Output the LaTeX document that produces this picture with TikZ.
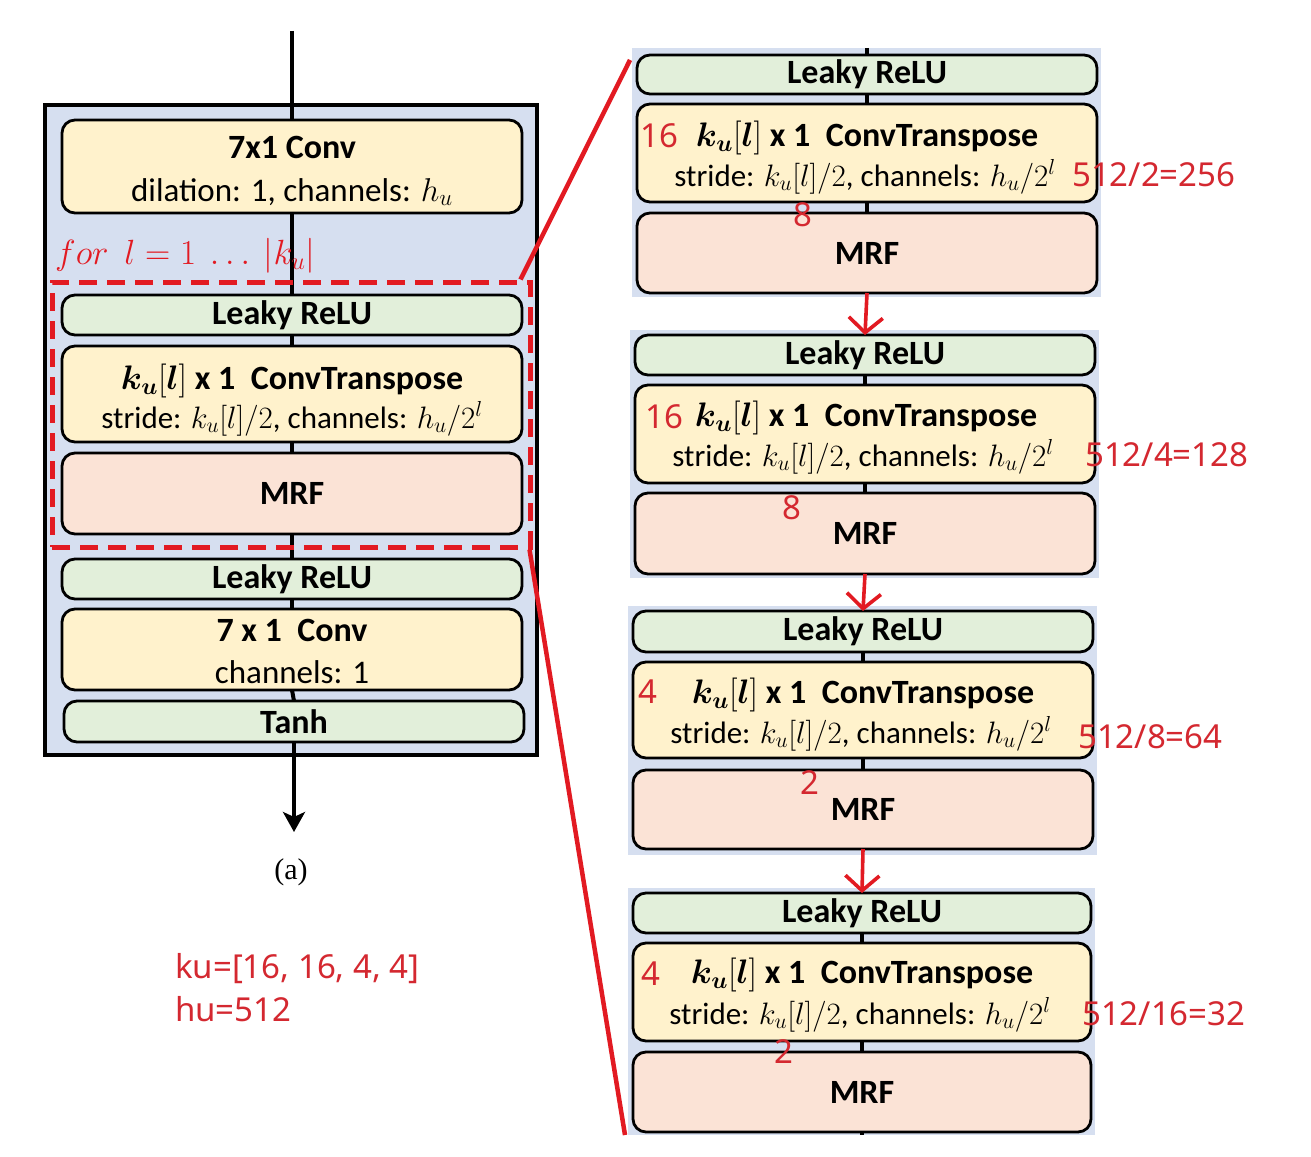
\RequirePackage{fix-cm}
\documentclass[tikz,border=0pt]{standalone}
\usepackage{fontspec}
\setmainfont{Carlito}
\newfontfamily\annfont{Noto Sans}
\newfontfamily\serfont{Liberation Serif}
\usepackage{amsmath,bm}
\usetikzlibrary{arrows.meta}
\definecolor{bluebg}{RGB}{214,223,240}
\definecolor{yelc}{RGB}{255,242,204}
\definecolor{grnc}{RGB}{226,239,218}
\definecolor{pchc}{RGB}{251,227,214}
\definecolor{redl}{RGB}{226,26,34}
\definecolor{redt}{RGB}{212,40,48}
% box from corners: style, name, x1, y1, x2, y2, then {text};
\newcommand\mkbox[6]{%
  \pgfmathsetmacro\mbW{#5-#3}\pgfmathsetmacro\mbH{#6-#4}%
  \pgfmathsetmacro\mbX{(#3+#5)/2}\pgfmathsetmacro\mbY{(#4+#6)/2}%
  \node[#1, minimum width=\mbW pt, minimum height=\mbH pt] (#2) at (\mbX,\mbY)}
\begin{document}
\begin{tikzpicture}[x=1pt,y=-1pt,
  blk/.style={draw=black, line width=2.8pt, rounded corners=13pt, inner sep=0pt, outer sep=0pt},
  ybox/.style={blk, fill=yelc},
  gbox/.style={blk, fill=grnc, font=\fontsize{34}{40}\selectfont\bfseries},
  pbox/.style={blk, fill=pchc, font=\fontsize{34}{40}\selectfont\bfseries},
  ttl/.style={font=\fontsize{34}{40}\selectfont\bfseries, anchor=base, inner sep=0pt},
  subl/.style={font=\fontsize{33}{40}\selectfont, anchor=base, inner sep=0pt},
  subs/.style={font=\fontsize{31}{36}\selectfont, anchor=base, inner sep=0pt},
  ann/.style={text=redt, font=\annfont\fontsize{33}{40}\selectfont, anchor=base, inner sep=0pt},
  annw/.style={ann, anchor=base west},
  panel/.style={fill=bluebg, inner sep=0pt, outer sep=0pt},
  flow/.style={draw=black, line width=4pt},
  rflow/.style={draw=black, line width=3.2pt},
  redarr/.style={draw=redl, line width=3.6pt, -{Straight Barb[length=15pt,width=34pt]}},
  redline/.style={draw=redl, line width=4.5pt},
]
\useasboundingbox (0,0) rectangle (1311,1156);
\fill[white] (0,0) rectangle (1311,1156);

% ---------------- left panel ----------------
\mkbox{panel, draw=black, line width=3.4pt}{outer}{45}{105}{537}{755} {};
\coordinate (inL) at (292,31);

\mkbox{ybox}{c1}{62}{120}{522}{213} {};
\mkbox{gbox}{L1}{62}{295}{522}{335} {Leaky ReLU};
\mkbox{ybox}{T1}{62}{346}{522}{442} {};
\mkbox{pbox}{M1}{62}{453}{522}{534} {MRF};
\mkbox{gbox}{L2}{62}{559}{522}{599} {Leaky ReLU};
\mkbox{ybox}{c2}{62}{609}{522}{690} {};
\mkbox{gbox}{th}{64}{701}{524}{742} {Tanh};
\coordinate (outL) at (294,832);

\draw[flow] (inL) -- (c1.north);
\draw[flow] (c1.south) -- (L1.north);
\draw[flow] (L1.south) -- (T1.north);
\draw[flow] (T1.south) -- (M1.north);
\draw[flow] (M1.south) -- (L2.north);
\draw[flow] (L2.south) -- (c2.north);
\draw[flow] (c2.south) -- (th.north);
\draw[flow, -{Stealth[length=20pt,width=22pt,inset=5pt]}] (th.south) -- (outL);

\node[ttl] (c1a) at (292,158) {7x1 Conv};
\node[subl] (c1b) at (292,201) {dilation: 1, channels: $h_u$};
\node[ttl] (T1a) at (292,389) {$\bm{k_u}[\bm{l}]$ x 1\ \ ConvTranspose};
\node[subs] (T1b) at (292,428) {stride: $k_u[l]/2$, channels: $h_u/2^l$};
\node[ttl] (c2a) at (292,641) {7 x 1\ \ Conv};
\node[subl] (c2b) at (292,683) {channels: 1};

\node[text=redl, font=\fontsize{35}{40}\selectfont, anchor=base west, inner sep=0pt] (forl) at (55,264) {$for\ \ l=1\ \dots\ |k_u|$};
\mkbox{draw=redl, line width=5pt, dash pattern=on 18pt off 10pt, inner sep=0pt}{loop}{52}{282}{530}{547} {};

\node[font=\serfont\fontsize{30}{36}\selectfont, inner sep=0pt] (cap) at (291,872) {(a)};
\node[annw] (ku) at (175,978) {ku=[16, 16, 4, 4]};
\node[annw] (hu) at (175,1021) {hu=512};

% ---------------- right panels ----------------
\mkbox{panel}{P1}{632}{48}{1101}{297} {};
\mkbox{panel}{P2}{630}{330}{1099}{578} {};
\mkbox{panel}{P3}{628}{606}{1097}{855} {};
\mkbox{panel}{P4}{628}{888}{1095}{1135} {};

% panel 1
\mkbox{gbox}{RL1}{637}{55}{1097}{94} {Leaky ReLU};
\mkbox{ybox}{RT1}{637}{104}{1097}{202} {};
\mkbox{pbox}{RM1}{637}{213}{1097}{293} {MRF};
% panel 2
\mkbox{gbox}{RL2}{635}{335}{1095}{375} {Leaky ReLU};
\mkbox{ybox}{RT2}{635}{385}{1095}{483} {};
\mkbox{pbox}{RM2}{635}{493}{1095}{574} {MRF};
% panel 3
\mkbox{gbox}{RL3}{633}{611}{1093}{652} {Leaky ReLU};
\mkbox{ybox}{RT3}{633}{662}{1093}{758} {};
\mkbox{pbox}{RM3}{633}{770}{1093}{849} {MRF};
% panel 4
\mkbox{gbox}{RL4}{633}{893}{1091}{933} {Leaky ReLU};
\mkbox{ybox}{RT4}{633}{943}{1091}{1041} {};
\mkbox{pbox}{RM4}{633}{1052}{1091}{1132} {MRF};

\coordinate (top1) at (867,48);
\coordinate (bot4) at (862,1135);
\draw[rflow] (top1) -- (RL1.north);
\draw[rflow] (RL1.south) -- (RT1.north);
\draw[rflow] (RT1.south) -- (RM1.north);
\draw[rflow] (RL2.south) -- (RT2.north);
\draw[rflow] (RT2.south) -- (RM2.north);
\draw[rflow] (RL3.south) -- (RT3.north);
\draw[rflow] (RT3.south) -- (RM3.north);
\draw[rflow] (RL4.south) -- (RT4.north);
\draw[rflow] (RT4.south) -- (RM4.north);
\draw[rflow] (RM4.south) -- (bot4);

\draw[redarr] (RM1.south) -- (RL2.north);
\draw[redarr] (RM2.south) -- (RL3.north);
\draw[redarr] (RM3.south) -- (RL4.north);

% texts in ConvTranspose boxes
\node[ttl] (RT1a) at (867,146) {$\bm{k_u}[\bm{l}]$ x 1\ \ ConvTranspose};
\node[subs] (RT1b) at (865,186) {stride: $k_u[l]/2$, channels: $h_u/2^l$};
\node[ttl] (RT2a) at (866,426) {$\bm{k_u}[\bm{l}]$ x 1\ \ ConvTranspose};
\node[subs] (RT2b) at (863,466) {stride: $k_u[l]/2$, channels: $h_u/2^l$};
\node[ttl] (RT3a) at (863,703) {$\bm{k_u}[\bm{l}]$ x 1\ \ ConvTranspose};
\node[subs] (RT3b) at (861,743) {stride: $k_u[l]/2$, channels: $h_u/2^l$};
\node[ttl] (RT4a) at (862,983) {$\bm{k_u}[\bm{l}]$ x 1\ \ ConvTranspose};
\node[subs] (RT4b) at (860,1024) {stride: $k_u[l]/2$, channels: $h_u/2^l$};

% red annotations
\node[ann] (n1a) at (659,147) {16};
\node[annw] (n1b) at (1072,186) {512/2=256};
\node[ann] (n1c) at (803,226) {8};
\node[ann] (n2a) at (664,428) {16};
\node[annw] (n2b) at (1085,466) {512/4=128};
\node[ann] (n2c) at (792,519) {8};
\node[ann] (n3a) at (648,703) {4};
\node[annw] (n3b) at (1078,748) {512/8=64};
\node[ann] (n3c) at (810,794) {2};
\node[ann] (n4a) at (651,985) {4};
\node[annw] (n4b) at (1082,1025) {512/16=32};
\node[ann] (n4c) at (784,1063) {2};

% zoom lines
\coordinate (z1) at (630,60);
\coordinate (z2) at (625,1135);
\draw[redline] ([xshift=-12pt]loop.north east) -- (z1);
\draw[redline] ([xshift=-3pt]loop.south east) -- (z2);
\end{tikzpicture}
\end{document}
